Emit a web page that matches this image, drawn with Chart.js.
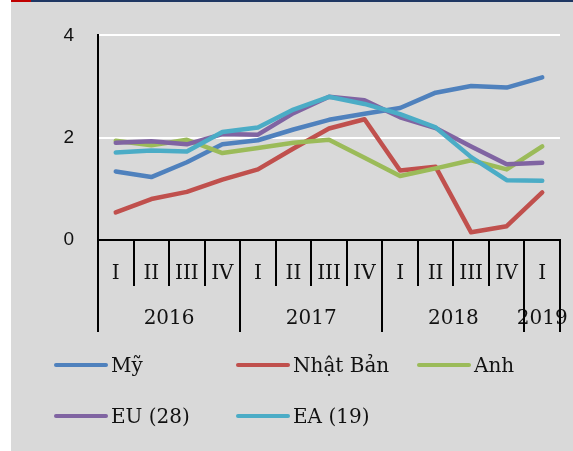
<!DOCTYPE html>
<html>
<head>
<meta charset="utf-8">
<script src="https://cdn.jsdelivr.net/npm/chart.js@4"></script>
<style>
  html, body { margin: 0; padding: 0; background: #fff; }
  #wrap { position: relative; width: 573px; height: 451px; overflow: hidden; }
  #legend { position: absolute; left: 0; top: 0; width: 573px; height: 451px; pointer-events: none; }
  .item { position: absolute; display: flex; align-items: center; height: 26px;
          font-family: "DejaVu Serif", serif; font-size: 20px; color: #111; white-space: nowrap; }
  .item span.sw { display: inline-block; width: 54px; height: 4px; border-radius: 2px; margin-right: 3px; }
</style>
</head>
<body>
<div id="wrap">
  <canvas id="chart" width="573" height="451"></canvas>
  <div id="legend"></div>
</div>
<script>
// quarters and years
const quarters = ['I','II','III','IV','I','II','III','IV','I','II','III','IV','I']
const years = ['2016','2017','2018','2019']
const yearSpan = [4,4,4,1]

// series values (%)
const my = [1.34,1.23,1.52,1.87,1.95,2.16,2.35,2.47,2.58,2.88,3.01,2.98,3.18]
const nhatban = [0.54,0.80,0.94,1.18,1.38,1.79,2.18,2.36,1.36,1.43,0.15,0.27,0.93]
const anh = [1.94,1.85,1.96,1.70,1.80,1.90,1.96,1.61,1.25,1.40,1.56,1.38,1.83]
const eu = [1.90,1.93,1.87,2.07,2.06,2.48,2.80,2.73,2.40,2.19,1.83,1.48,1.51]
const ea = [1.71,1.75,1.73,2.11,2.20,2.55,2.80,2.66,2.46,2.20,1.62,1.17,1.16]

const names = ['Mỹ','Nhật Bản','Anh','EU (28)','EA (19)']
const colors = ['#4F81BD','#C0504D','#9BBB59','#8064A2','#4BACC6']
const series = [my, nhatban, anh, eu, ea]

const yTicks = [0, 2, 4]

// background, top stripe
const bgPlugin = {
    id: 'bg',
    beforeDraw(chart) {
        const ctx = chart.ctx
        ctx.save()
        ctx.fillStyle = '#ffffff'
        ctx.fillRect(0, 0, chart.width, chart.height)
        ctx.fillStyle = '#d9d9d9'
        ctx.fillRect(11, 0, chart.width - 11, chart.height)
        ctx.fillStyle = '#1f3763'
        ctx.fillRect(11, 0, chart.width - 11, 2)
        ctx.fillStyle = '#c00000'
        ctx.fillRect(11, 0, 20, 2)
        ctx.restore()
    }
}

// quarter / year separators and year labels
const yearAxisPlugin = {
    id: 'yearaxis',
    afterDraw(chart) {
        const ctx = chart.ctx, x = chart.scales.x, area = chart.chartArea
        const edge = (i) => {
            if (i <= 0) return area.left
            if (i >= quarters.length) return area.right
            return (x.getPixelForTick(i - 1) + x.getPixelForTick(i)) / 2
        }
        ctx.save()
        ctx.strokeStyle = '#000'
        ctx.lineWidth = 2
        // short quarter lines
        for (let i = 1; i < quarters.length; i++) {
            const px = Math.round(edge(i))
            ctx.beginPath()
            ctx.moveTo(px, area.bottom)
            ctx.lineTo(px, area.bottom + 46)
            ctx.stroke()
        }
        // long year lines + labels
        ctx.font = '20px "DejaVu Serif"'
        ctx.fillStyle = '#111'
        ctx.textAlign = 'center'
        ctx.textBaseline = 'middle'
        let start = 0
        const bounds = [0]
        years.forEach((yr, k) => {
            const end = start + yearSpan[k]
            bounds.push(end)
            ctx.fillText(yr, (edge(start) + edge(end)) / 2, area.bottom + 79)
            start = end
        })
        bounds.forEach(b => {
            const px = Math.round(edge(b))
            ctx.beginPath()
            ctx.moveTo(px, area.bottom)
            ctx.lineTo(px, area.bottom + 92)
            ctx.stroke()
        })
        ctx.restore()
    }
}

const datasets = series.map((d, i) => ({
    label: names[i],
    data: d,
    borderColor: colors[i],
    backgroundColor: colors[i],
    borderWidth: 4.5,
    borderCapStyle: 'round',
    borderJoinStyle: 'round',
    pointRadius: 0,
    tension: 0,
    fill: false,
    order: series.length - i
}))

const chart = new Chart(document.getElementById('chart').getContext('2d'), {
    type: 'line',
    data: { labels: quarters, datasets: datasets },
    options: {
        responsive: false,
        animation: false,
        layout: { padding: { left: 0, right: 13, top: 34, bottom: 0 } },
        plugins: { legend: { display: false }, tooltip: { enabled: false } },
        scales: {
            x: {
                offset: true,
                grid: { display: false, drawTicks: false },
                border: { color: '#000', width: 2 },
                ticks: {
                    color: '#111',
                    font: { family: 'DejaVu Serif', size: 20 },
                    padding: 22,
                    maxRotation: 0,
                    autoSkip: false
                },
                afterFit(scale) { scale.height = 211 }
            },
            y: {
                min: 0,
                max: 4,
                afterBuildTicks(scale) { scale.ticks = yTicks.map(v => ({ value: v })) },
                grid: {
                    drawTicks: false,
                    color: (c) => c.tick && c.tick.value === 0 ? 'rgba(0,0,0,0)' : '#ffffff',
                    lineWidth: 2
                },
                border: { color: '#000', width: 2 },
                ticks: {
                    color: '#111',
                    font: { family: 'Liberation Sans', size: 19 },
                    padding: 24
                },
                afterFit(scale) { scale.width = 98 }
            }
        }
    },
    plugins: [bgPlugin, yearAxisPlugin]
})

// html legend, two rows of three columns
const legendbox = document.getElementById('legend')
const colX = [54, 236, 417], rowY = [365, 416]
chart.data.datasets.forEach((ds, i) => {
    const el = document.createElement('div')
    el.className = 'item'
    el.style.left = colX[i % 3] + 'px'
    el.style.top = (rowY[Math.floor(i / 3)] - 13) + 'px'
    el.innerHTML = '<span class="sw" style="background:' + ds.borderColor + '"></span>' + ds.label
    legendbox.appendChild(el)
})
</script>
</body>
</html>
